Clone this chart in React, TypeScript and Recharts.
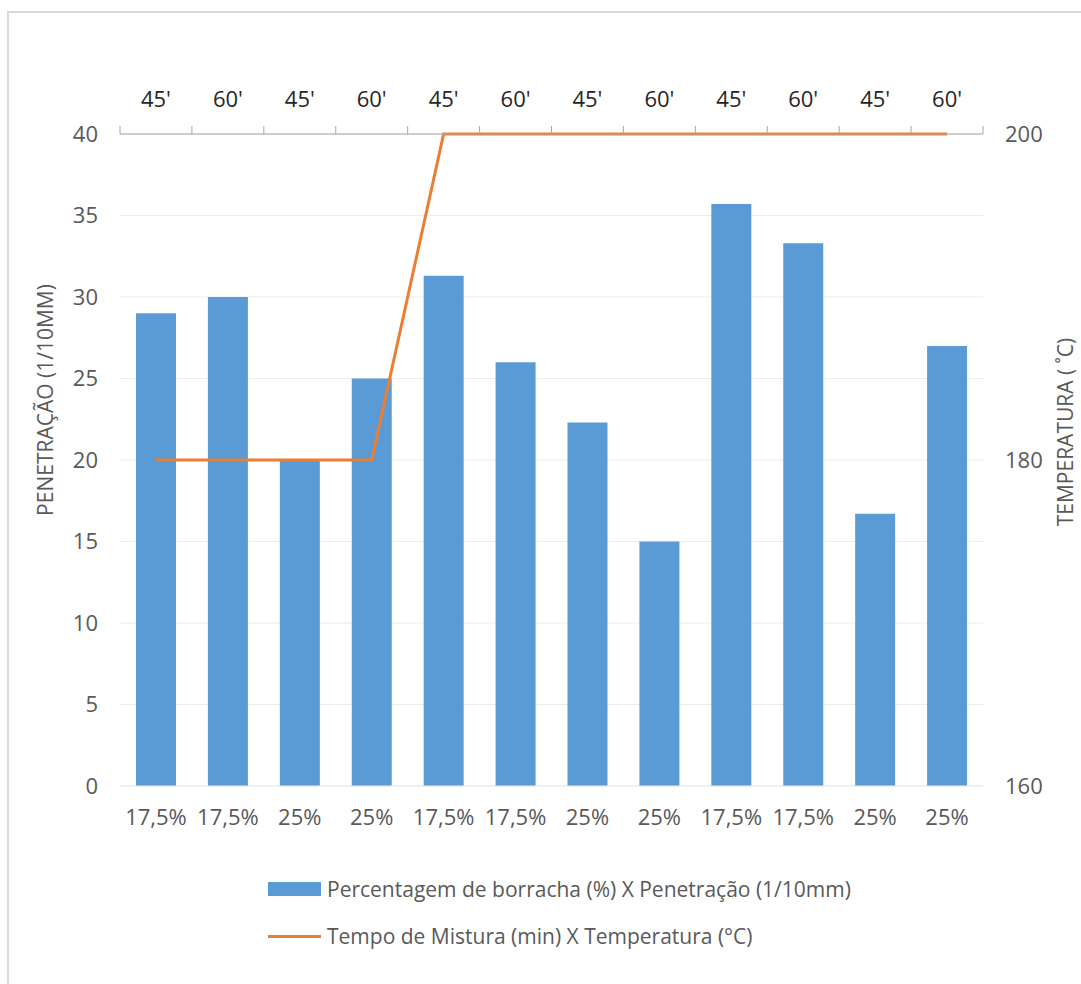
import React from 'react';
import { ComposedChart, Bar, Line, XAxis, YAxis, CartesianGrid, Legend } from 'recharts';

const percentagens = ['17,5%', '17,5%', '25%', '25%', '17,5%', '17,5%', '25%', '25%', '17,5%', '17,5%', '25%', '25%'];
const tempos = ["45'", "60'", "45'", "60'", "45'", "60'", "45'", "60'", "45'", "60'", "45'", "60'"];
const penetracao = [29, 30, 20, 25, 31.3, 26, 22.3, 15, 35.7, 33.3, 16.7, 27];
const temperatura = [180, 180, 180, 180, 200, 200, 200, 200, 200, 200, 200, 200];

const leftTicks = [0, 5, 10, 15, 20, 25, 30, 35, 40];
const rightTicks = [160, 180, 200];
const boundaryTicks = [0, 1, 2, 3, 4, 5, 6, 7, 8, 9, 10, 11, 12];

const data = percentagens.map((pct, i) => ({
    pct,
    tempo: tempos[i],
    penetracao: penetracao[i],
    temperatura: temperatura[i],
}));

const FONT = '"Open Sans", sans-serif';
const TEXT = '#595959';
const BLUE = '#5b9bd5';
const ORANGE = '#ed7d31';

const tickStyle = { fill: TEXT, fontSize: 22, fontFamily: FONT };

// rotated axis title, placed relative to the axis viewBox
const axisTitle = (text: string, dx: number, dy: number) => (props: any) => {
    const vb = props.viewBox;
    const cx = vb.x + dx;
    const cy = vb.y + vb.height / 2 + dy;
    return (
        <text
            x={cx}
            y={cy}
            transform={`rotate(-90 ${cx} ${cy})`}
            textAnchor="middle"
            dominantBaseline="central"
            fill={TEXT}
            fontSize={21}
            fontFamily={FONT}
        >
            {text}
        </text>
    );
};

const renderLegend = () => (
    <div style={{ fontFamily: FONT, fontSize: 21, color: TEXT, whiteSpace: 'nowrap' }}>
        <div style={{ display: 'flex', alignItems: 'center', height: 30 }}>
            <span style={{ display: 'inline-block', width: 53, height: 14, background: BLUE, marginRight: 6 }} />
            Percentagem de borracha (%) X Penetração (1/10mm)
        </div>
        <div style={{ display: 'flex', alignItems: 'center', height: 30, marginTop: 17 }}>
            <span style={{ display: 'inline-block', width: 53, height: 3, background: ORANGE, marginRight: 6 }} />
            Tempo de Mistura (min) X Temperatura (°C)
        </div>
    </div>
);

export default function App() {
    return (
        <div style={{ position: 'absolute', left: 0, top: 0, width: 1081, height: 984, background: '#fff' }}>
            <div
                style={{
                    position: 'absolute',
                    left: 7,
                    top: 11,
                    right: 0,
                    bottom: 0,
                    borderLeft: '2px solid #d9d9d9',
                    borderTop: '2px solid #d9d9d9',
                }}
            />
            <ComposedChart
                width={1081}
                height={984}
                data={data}
                margin={{ top: 86, right: 38, bottom: 158, left: 40 }}
                style={{ position: 'absolute', left: 0, top: 0 }}
            >
                <CartesianGrid yAxisId="left" xAxisId="bottom" vertical={false} stroke="#ebebeb" strokeWidth={1} />
                {/* boundary tick marks between the categories, along the top edge */}
                <XAxis
                    xAxisId="ticks"
                    orientation="top"
                    type="number"
                    dataKey="slot"
                    domain={[0, 12]}
                    allowDataOverflow
                    ticks={boundaryTicks}
                    interval={0}
                    tickFormatter={() => ''}
                    tickSize={8}
                    height={8}
                    stroke="#a6a6a6"
                />
                <XAxis
                    xAxisId="top"
                    orientation="top"
                    dataKey="tempo"
                    interval={0}
                    axisLine={false}
                    tickLine={false}
                    tickSize={0}
                    tickMargin={19}
                    height={40}
                    tick={{ ...tickStyle, fill: '#262626' }}
                />
                <XAxis
                    xAxisId="bottom"
                    dataKey="pct"
                    interval={0}
                    axisLine={{ stroke: '#ebebeb' }}
                    tickLine={false}
                    tickSize={0}
                    tickMargin={23}
                    height={40}
                    tick={tickStyle}
                />
                <YAxis
                    yAxisId="left"
                    domain={[0, 40]}
                    ticks={leftTicks}
                    interval={0}
                    axisLine={false}
                    tickLine={false}
                    tickSize={0}
                    tickMargin={22}
                    width={80}
                    tick={tickStyle}
                    label={{ content: axisTitle('PENETRAÇÃO (1/10MM)', 5, -60) }}
                />
                <YAxis
                    yAxisId="right"
                    orientation="right"
                    domain={[160, 200]}
                    ticks={rightTicks}
                    interval={0}
                    axisLine={false}
                    tickLine={false}
                    tickSize={0}
                    tickMargin={22}
                    width={60}
                    tick={tickStyle}
                    label={{ content: axisTitle('TEMPERATURA ( ˚C)', 82, -28) }}
                />
                <Bar
                    xAxisId="bottom"
                    yAxisId="left"
                    dataKey="penetracao"
                    fill={BLUE}
                    barSize={40}
                    isAnimationActive={false}
                />
                <Line
                    xAxisId="bottom"
                    yAxisId="right"
                    dataKey="temperatura"
                    type="linear"
                    stroke={ORANGE}
                    strokeWidth={3}
                    dot={false}
                    activeDot={false}
                    isAnimationActive={false}
                />
                <Legend
                    layout="vertical"
                    verticalAlign="middle"
                    align="center"
                    content={renderLegend}
                    wrapperStyle={{ position: 'absolute', left: 268, top: 874, width: 'auto' }}
                />
            </ComposedChart>
        </div>
    );
}
